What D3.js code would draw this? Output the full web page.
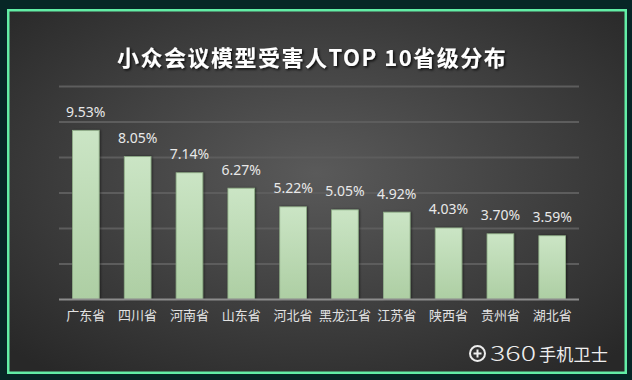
<!DOCTYPE html>
<html><head><meta charset="utf-8">
<script src="https://cdn.jsdelivr.net/npm/d3@7/dist/d3.min.js"></script>
<style>html,body{margin:0;padding:0;background:#072626;}svg{display:block;}</style>
</head><body>
<svg id="c" width="632" height="380"></svg>
<script>
const categories = ["广东省","四川省","河南省","山东省","河北省","黑龙江省","江苏省","陕西省","贵州省","湖北省"];
const values = [9.53, 8.05, 7.14, 6.27, 5.22, 5.05, 4.92, 4.03, 3.70, 3.59];
const yTicks = [0, 2, 4, 6, 8, 10, 12];
const title = "小众会议模型受害人TOP 10省级分布";
const brandNum = "360";
const brandText = "手机卫士";

const svg = d3.select("#c");
const defs = svg.append("defs");
const rg = defs.append("radialGradient").attr("id","bg").attr("cx","50%").attr("cy","45%").attr("r","70%");
rg.append("stop").attr("offset","0%").attr("stop-color","#5a5a5a");
rg.append("stop").attr("offset","100%").attr("stop-color","#282828");
const bgG = defs.append("linearGradient").attr("id","bar").attr("x1",0).attr("y1",0).attr("x2",0).attr("y2",1);
bgG.append("stop").attr("offset","0%").attr("stop-color","#cbe5c5");
bgG.append("stop").attr("offset","100%").attr("stop-color","#adcea3");
const f = defs.append("filter").attr("id","ts").attr("x","-10%").attr("y","-30%").attr("width","120%").attr("height","160%");
f.append("feDropShadow").attr("dx",1.5).attr("dy",1.5).attr("stdDeviation",1).attr("flood-color","#000").attr("flood-opacity",0.8);
const fb = defs.append("filter").attr("id","bs").attr("x","-20%").attr("y","-10%").attr("width","140%").attr("height","120%");
fb.append("feDropShadow").attr("dx",1).attr("dy",0).attr("stdDeviation",1).attr("flood-color","#000").attr("flood-opacity",0.5);

svg.append("rect").attr("width",632).attr("height",380).attr("fill","#072626");
svg.append("rect").attr("x",7).attr("y",9).attr("width",620).attr("height",365).attr("fill","#62eea6");
svg.append("rect").attr("x",9.5).attr("y",11.5).attr("width",615).attr("height",360).attr("fill","url(#bg)");

const x = d3.scaleBand().domain(categories).range([59.5, 578.5]).paddingInner(0.485).paddingOuter(0.25);
const y = d3.scaleLinear().domain([0, 12]).range([299.5, 86.5]);

// gridlines
svg.append("g").selectAll("line").data(yTicks.slice(1)).join("line")
  .attr("x1",59).attr("x2",579).attr("y1",d=>y(d)).attr("y2",d=>y(d))
  .attr("stroke","#5d5d5d").attr("stroke-width",1.8);

// bars
svg.append("g").selectAll("rect").data(values).join("rect")
  .attr("x",(d,i)=>x(categories[i])).attr("width",x.bandwidth())
  .attr("y",d=>y(d)).attr("height",d=>y(0)-y(d))
  .attr("fill","url(#bar)").attr("stroke","#8fae87").attr("stroke-width",0.8)
  .attr("filter","url(#bs)");

// axis
const xAxis = d3.axisBottom(x).tickSize(0).tickPadding(0);
const ax = svg.append("g").attr("transform",`translate(0,${y(0)})`).call(xAxis);
ax.select(".domain").attr("d","M59,0H579").attr("stroke","#8c8c8c").attr("stroke-width",2);
ax.selectAll("text").attr("dy",0).attr("y",20.5)
  .attr("fill","#e2e2e2").attr("font-size","13px")
  .attr("font-family","'Noto Sans CJK SC', sans-serif");

// value labels
svg.append("g").selectAll("text").data(values).join("text")
  .attr("x",(d,i)=>x(categories[i])+x.bandwidth()/2)
  .attr("y",d=>y(d)-13.5)
  .attr("text-anchor","middle").attr("fill","#e8e8e8")
  .attr("font-size","14px").attr("font-family","'Noto Sans', sans-serif")
  .text(d=>d.toFixed(2)+"%");

// title
svg.append("text").attr("x",117).attr("y",65.5)
  .attr("fill","#ffffff").attr("font-size","22px").attr("font-weight","bold")
  .attr("letter-spacing","1.5px")
  .attr("font-family","'Noto Sans CJK SC', sans-serif").attr("filter","url(#ts)")
  .text(title);

// watermark
const wm = svg.append("g");
wm.append("circle").attr("cx",477.5).attr("cy",353.5).attr("r",7.5).attr("fill","none").attr("stroke","#eeeeee").attr("stroke-width",2);
wm.append("path").attr("d","M473.5,353.5H481.5M477.5,349.5V357.5").attr("stroke","#eeeeee").attr("stroke-width",2);
const wt = wm.append("text").attr("y",361).attr("fill","#eeeeee")
  .attr("font-family","'Noto Sans CJK SC', sans-serif");
wt.append("tspan").attr("x",490).attr("font-size","20px").attr("font-weight","300")
  .attr("textLength",46).attr("lengthAdjust","spacingAndGlyphs").text(brandNum);
wt.append("tspan").attr("x",539).attr("font-size","17px").attr("letter-spacing","0.3px").text(brandText);
</script>
</body></html>
